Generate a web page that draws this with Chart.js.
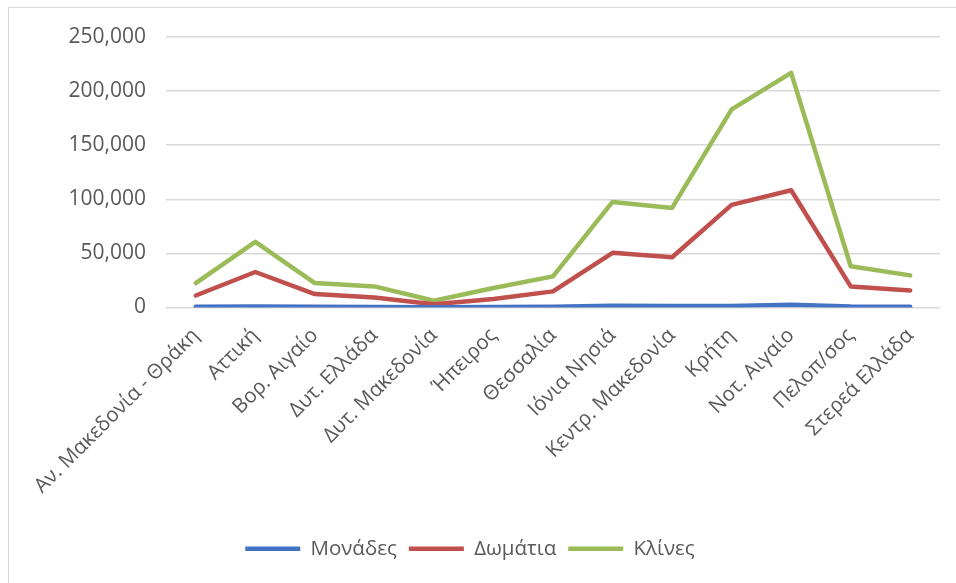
<!DOCTYPE html>
<html>
<head>
<meta charset="utf-8">
<script src="https://cdn.jsdelivr.net/npm/chart.js@4"></script>
<style>
  html, body { margin: 0; padding: 0; background: #fff; }
  #wrap { position: relative; width: 956px; height: 583px; overflow: hidden; }
  #frame { position: absolute; left: 8px; top: 7px; width: 1000px; height: 1000px; border: 1px solid #d9d9d9; box-sizing: border-box; }
  canvas { position: absolute; left: 0; top: 0; }
</style>
</head>
<body>
<div id="wrap">
  <div id="frame"></div>
  <canvas id="chart" width="956" height="583"></canvas>
</div>
<script>
// regions
const regions = [
  "Αν. Μακεδονία - Θράκη", "Αττική", "Βορ. Αιγαίο", "Δυτ. Ελλάδα", "Δυτ. Μακεδονία",
  "Ήπειρος", "Θεσσαλία", "Ιόνια Νησιά", "Κεντρ. Μακεδονία", "Κρήτη",
  "Νοτ. Αιγαίο", "Πελοπ/σος", "Στερεά Ελλάδα"
];

const monades = [600, 900, 700, 500, 200, 500, 600, 1700, 1400, 1500, 2600, 900, 600];
const domatia = [11100, 32800, 12400, 9300, 3100, 7900, 14900, 50500, 46500, 94800, 108400, 19500, 15800];
const klines = [22600, 60700, 22600, 19500, 6200, 18000, 28800, 97600, 92000, 183100, 216800, 38100, 29700];

const yTicks = [0, 50000, 100000, 150000, 200000, 250000];

const FONT = "'Open Sans', 'Noto Sans', sans-serif";
const TEXT = "#595959";

function line(label, data, color) {
  return {
    label: label,
    data: data,
    borderColor: color,
    backgroundColor: color,
    borderWidth: 4.5,
    pointRadius: 0,
    tension: 0,
    fill: false,
    borderCapStyle: "round",
    borderJoinStyle: "round"
  };
}

new Chart(document.getElementById("chart"), {
  type: "line",
  data: {
    labels: regions,
    datasets: [
      line("Μονάδες", monades, "#4472c4"),
      line("Δωμάτια", domatia, "#c0504d"),
      line("Κλίνες", klines, "#9bbb59")
    ]
  },
  options: {
    responsive: false,
    animation: false,
    locale: "en-US",
    layout: { padding: { left: 0, right: 16, top: 37, bottom: 14 } },
    plugins: {
      tooltip: { enabled: false },
      legend: {
        position: "bottom",
        labels: {
          usePointStyle: true,
          pointStyle: "line",
          pointStyleWidth: 55,
          color: TEXT,
          font: { family: FONT, size: 20.5 },
          padding: 12
        }
      }
    },
    scales: {
      x: {
        offset: true,
        grid: { display: false },
        border: { display: false },
        ticks: {
          color: TEXT,
          font: { family: FONT, size: 20.5 },
          maxRotation: 45,
          minRotation: 45,
          autoSkip: false,
          padding: 8
        },
        afterFit: (scale) => { scale.height = 219; }
      },
      y: {
        min: 0,
        max: 250000,
        afterBuildTicks: (scale) => { scale.ticks = yTicks.map(v => ({ value: v })); },
        grid: { color: "#d9d9d9", lineWidth: 1.5, drawTicks: false },
        border: { display: false },
        ticks: {
          color: TEXT,
          font: { family: FONT, size: 21 },
          padding: 20,
          callback: (v) => v.toLocaleString("en-US")
        },
        afterFit: (scale) => { scale.width = 166; }
      }
    }
  }
});
</script>
</body>
</html>
